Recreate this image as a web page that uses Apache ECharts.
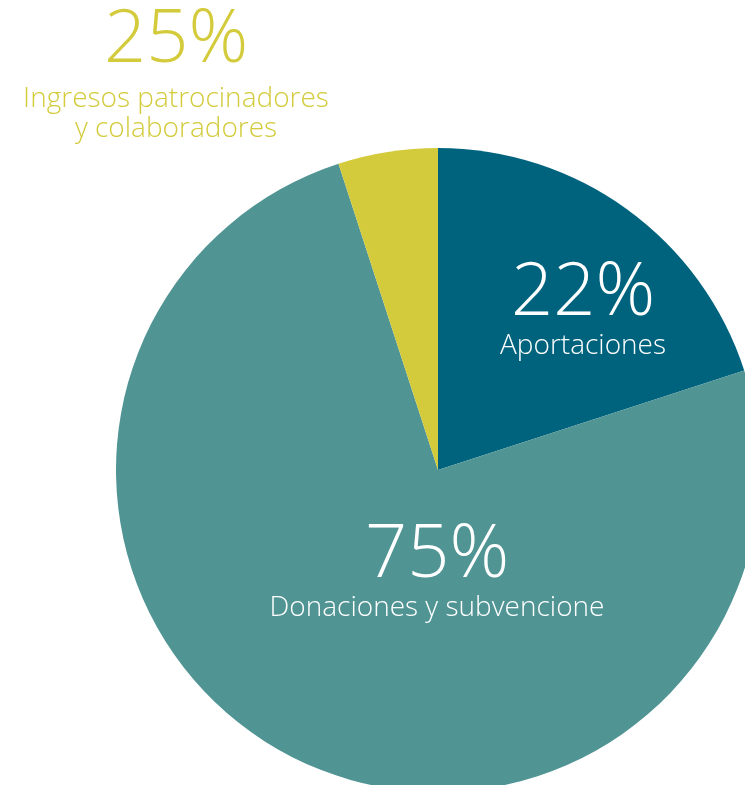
<!DOCTYPE html>
<html>
<head>
<meta charset="utf-8">
<script src="https://cdn.jsdelivr.net/npm/echarts@6/dist/echarts.min.js"></script>
<style>
  html, body { margin: 0; padding: 0; background: #fff; }
  #main { width: 745px; height: 785px; }
</style>
</head>
<body>
<div id="main"></div>
<script>
// slice sizes as drawn; label text as printed in the original
const names = ['Aportaciones', 'Donaciones y subvencione', 'Ingresos patrocinadores\ny colaboradores']
const values = [20, 75, 5]
const pctLabels = ['22%', '75%', '25%']
const colors = ['#00637e', '#509494', '#d3cb3c']

const font = '"Open Sans", sans-serif'

const chart = echarts.init(document.getElementById('main'))

const labelBlock = function (i, x, y, color, gap) {
    return {
        type: 'text',
        x: x,
        y: y,
        z: 100,
        style: {
            text: '{p|' + pctLabels[i] + '}\n' + names[i].split('\n').map(s => '{n|' + s + '}').join('\n'),
            align: 'center',
            verticalAlign: 'top',
            fill: color,
            rich: {
                p: { fontFamily: font, fontWeight: 300, fontSize: 74, lineHeight: gap, fill: color, align: 'center' },
                n: { fontFamily: font, fontWeight: 300, fontSize: 28, lineHeight: 30, fill: color, align: 'center' }
            }
        }
    }
}

chart.setOption({
    animation: false,
    series: [{
        type: 'pie',
        center: [438, 470],
        radius: 322,
        startAngle: 90,
        clockwise: true,
        z: 1,
        label: { show: false },
        labelLine: { show: false },
        itemStyle: { borderWidth: 0 },
        data: values.map((v, i) => ({ name: names[i], value: v, itemStyle: { color: colors[i] } }))
    }],
    graphic: [
        labelBlock(0, 583, 256, '#ffffff', 75),
        labelBlock(1, 437, 518, '#ffffff', 75),
        labelBlock(2, 176, -3, '#d3cb3c', 87)
    ]
})
</script>
</body>
</html>
